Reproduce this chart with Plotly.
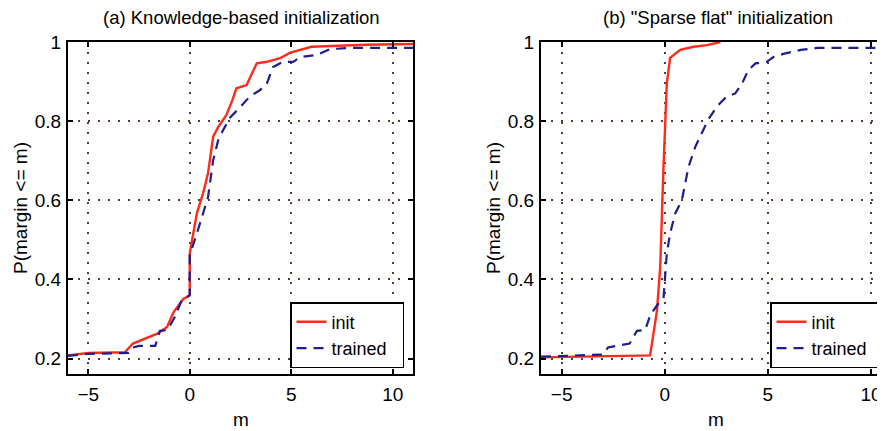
import plotly.graph_objects as go

# Panel (a) Knowledge-based initialization
a_init_x = [-6.0, -5.0, -3.2, -2.8, -1.6, -1.12, -0.8, -0.33, 0.0, 0.0, 0.35, 0.65, 0.9, 1.15, 1.4, 1.8, 2.1, 2.3, 2.8, 3.3, 3.8, 4.45, 4.95, 5.4, 6.0, 7.0, 8.7, 11.0]
a_init_y = [0.208, 0.214, 0.216, 0.238, 0.263, 0.28, 0.317, 0.35, 0.36, 0.466, 0.567, 0.617, 0.668, 0.76, 0.785, 0.815, 0.853, 0.883, 0.891, 0.946, 0.95, 0.959, 0.973, 0.98, 0.988, 0.99, 0.993, 0.995]
a_tr_x = [-6.0, -5.0, -3.0, -2.8, -2.5, -1.7, -1.47, -1.1, -0.75, -0.4, 0.0, 0.0, 0.35, 0.65, 0.9, 1.15, 1.4, 1.65, 2.0, 2.5, 2.95, 3.45, 3.8, 4.1, 4.6, 5.1, 5.45, 6.25, 6.9, 7.9, 11.0]
a_tr_y = [0.207, 0.212, 0.214, 0.228, 0.232, 0.232, 0.27, 0.272, 0.304, 0.347, 0.36, 0.462, 0.516, 0.567, 0.608, 0.70, 0.752, 0.778, 0.81, 0.836, 0.862, 0.878, 0.895, 0.937, 0.95, 0.95, 0.962, 0.967, 0.982, 0.985, 0.985]

# Panel (b) "Sparse flat" initialization
b_init_x = [-6.0, -0.71, -0.38, -0.22, -0.06, 0.1, 0.26, 0.75, 1.4, 2.05, 2.55, 2.7]
b_init_y = [0.203, 0.208, 0.32, 0.43, 0.684, 0.895, 0.96, 0.98, 0.988, 0.992, 0.998, 1.0]
b_tr_x = [-6.0, -3.0, -2.75, -1.7, -1.35, -0.95, -0.7, -0.38, -0.06, 0.0, 0.1, 0.26, 0.5, 0.83, 1.15, 1.48, 1.8, 2.1, 2.53, 3.0, 3.42, 3.75, 4.05, 4.4, 4.95, 5.27, 5.75, 6.6, 7.4, 11.0]
b_tr_y = [0.205, 0.21, 0.228, 0.238, 0.27, 0.272, 0.31, 0.334, 0.352, 0.39, 0.465, 0.516, 0.566, 0.60, 0.684, 0.735, 0.769, 0.803, 0.837, 0.862, 0.87, 0.895, 0.929, 0.946, 0.95, 0.962, 0.97, 0.98, 0.985, 0.985]

x_ticks = [-5, 0, 5, 10]
y_ticks = [0.2, 0.4, 0.6, 0.8, 1.0]
y_ticktext = ["0.2", "0.4", "0.6", "0.8", "1"]
names = ["init", "trained\u00a0\u00a0"]

RED = "#ff2a1a"
BLUE = "#1e1e8e"
FONT = "Liberation Sans, Arial, sans-serif"
OFF = 8                      # default page body margin
W, H = 885 - OFF, 431 - OFF


def fx(px):
    return (px - OFF) / W


def fy(py):
    return 1 - (py - OFF) / H


fig = go.Figure()
fig.add_trace(go.Scatter(x=a_init_x, y=a_init_y, mode="lines", name=names[0],
                         line=dict(color=RED, width=2.4), xaxis="x", yaxis="y", legend="legend"))
fig.add_trace(go.Scatter(x=a_tr_x, y=a_tr_y, mode="lines", name=names[1],
                         line=dict(color=BLUE, width=2.2, dash="10px,7px"), xaxis="x", yaxis="y", legend="legend"))
fig.add_trace(go.Scatter(x=b_init_x, y=b_init_y, mode="lines", name=names[0],
                         line=dict(color=RED, width=2.4), xaxis="x2", yaxis="y2", legend="legend2"))
fig.add_trace(go.Scatter(x=b_tr_x, y=b_tr_y, mode="lines", name=names[1],
                         line=dict(color=BLUE, width=2.2, dash="10px,7px"), xaxis="x2", yaxis="y2", legend="legend2"))

ax_common = dict(showline=True, linecolor="black", linewidth=2, mirror="ticks",
                 ticks="inside", ticklen=5, tickwidth=1.5, tickcolor="black",
                 showgrid=True, gridcolor="#5a3a2a", griddash="2px,8px", gridwidth=1.6,
                 zeroline=False, automargin=False,
                 tickfont=dict(family=FONT, size=19, color="black"))

ydom = [fy(374), fy(42)]
leg_common = dict(yanchor="bottom", bgcolor="white", bordercolor="black", borderwidth=1.5,
                  font=dict(family=FONT, size=18, color="black"), tracegroupgap=0)
fig.update_layout(
    width=W, height=H, margin=dict(l=0, r=0, t=0, b=0),
    paper_bgcolor="white", plot_bgcolor="white", font=dict(family=FONT, color="black"),
    xaxis=dict(domain=[fx(68), fx(413)], range=[-6, 11], tickvals=x_ticks, anchor="y",
               ticklabelstandoff=2, **ax_common),
    yaxis=dict(domain=ydom, range=[0.161, 1.0], tickvals=y_ticks, ticktext=y_ticktext, anchor="x",
               ticklabelstandoff=1, **ax_common),
    xaxis2=dict(domain=[fx(541), 1.0], range=[-6, 10.68], tickvals=x_ticks, anchor="y2",
                ticklabelstandoff=2, **ax_common),
    yaxis2=dict(domain=ydom, range=[0.161, 1.0], tickvals=y_ticks, ticktext=y_ticktext, anchor="x2",
                ticklabelstandoff=1, **ax_common),
    legend=dict(x=fx(404), y=fy(368), xanchor="right", **leg_common),
    legend2=dict(x=fx(884), y=fy(368), xanchor="right", **leg_common),
)

ann = [
    dict(text="(a) Knowledge-based initialization", x=fx(241), y=fy(17), size=18.5),
    dict(text="(b) \"Sparse flat\" initialization", x=fx(718), y=fy(17), size=18.5),
    dict(text="m", x=fx(241), y=fy(419), size=19),
    dict(text="m", x=fx(716), y=fy(419), size=19),
]
for a in ann:
    fig.add_annotation(text=a["text"], x=a["x"], y=a["y"], xref="paper", yref="paper",
                       xanchor="center", yanchor="middle", showarrow=False,
                       font=dict(family=FONT, size=a["size"], color="black"))
for xp in [20, 493]:
    fig.add_annotation(text="P(margin <= m)", x=fx(xp), y=fy(208), xref="paper", yref="paper",
                       xanchor="center", yanchor="middle", showarrow=False, textangle=-90,
                       font=dict(family=FONT, size=19, color="black"))

fig.write_html("out.html")
